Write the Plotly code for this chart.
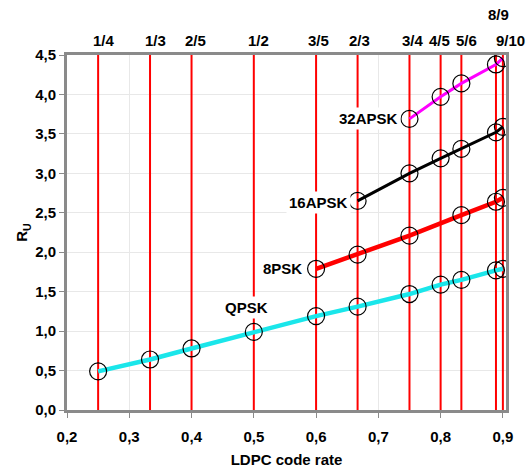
import plotly.graph_objects as go

# Code-rate labels and values (vertical red lines)
rate_labels = ["1/4", "1/3", "2/5", "1/2", "3/5", "2/3", "3/4", "4/5", "5/6", "8/9", "9/10"]
rate_values = [1/4, 1/3, 2/5, 1/2, 3/5, 2/3, 3/4, 4/5, 5/6, 8/9, 9/10]

# Spectral efficiency R_U per modulation
qpsk_x = [1/4, 1/3, 2/5, 1/2, 3/5, 2/3, 3/4, 4/5, 5/6, 8/9, 9/10]
qpsk_y = [0.49, 0.64, 0.78, 0.99, 1.19, 1.31, 1.47, 1.59, 1.65, 1.77, 1.79]
psk8_x = [3/5, 2/3, 3/4, 5/6, 8/9, 9/10]
psk8_y = [1.79, 1.97, 2.21, 2.47, 2.64, 2.69]
apsk16_x = [2/3, 3/4, 4/5, 5/6, 8/9, 9/10]
apsk16_y = [2.65, 3.00, 3.19, 3.31, 3.52, 3.59]
apsk32_x = [3/4, 4/5, 5/6, 8/9, 9/10]
apsk32_y = [3.69, 3.97, 4.14, 4.38, 4.46]

FONT = "Liberation Sans, Arial, Helvetica, sans-serif"
FS = 15

fig = go.Figure()

# Vertical red code-rate lines (as a trace so they sit above the grid, below the data)
vx, vy = [], []
for v in rate_values:
    vx += [v, v, None]
    vy += [0, 4.5, None]
fig.add_trace(go.Scatter(x=vx, y=vy, mode="lines", line=dict(color="#ff0000", width=2),
                         showlegend=False, hoverinfo="skip"))

series = [
    ("QPSK", qpsk_x, qpsk_y, "#1ae6ea", 4.5),
    ("8PSK", psk8_x, psk8_y, "#ff0000", 4.5),
    ("16APSK", apsk16_x, apsk16_y, "#000000", 3),
    ("32APSK", apsk32_x, apsk32_y, "#ff00ff", 3),
]
for name, xs, ys, col, w in series:
    fig.add_trace(go.Scatter(x=xs, y=ys, mode="lines", line=dict(color=col, width=w),
                             showlegend=False, hoverinfo="skip"))
for name, xs, ys, col, w in series:
    fig.add_trace(go.Scatter(x=xs, y=ys, mode="markers", name=name,
                             marker=dict(symbol="circle-open", size=17,
                                         color="black", line=dict(width=1.2, color="black")),
                             showlegend=False))

# Top labels (x shift, y shift in px)
top_shift = {"1/4": (6, 15), "1/3": (5, 15), "2/5": (4, 15), "1/2": (5, 15),
             "3/5": (2, 15), "2/3": (2, 15), "3/4": (4, 15), "4/5": (-1, 15),
             "5/6": (5, 15), "8/9": (3, 41), "9/10": (8, 15)}
for lab_, v in zip(rate_labels, rate_values):
    xs, ys = top_shift[lab_]
    fig.add_annotation(x=v, y=1, xref="x", yref="paper", text="<b>%s</b>" % lab_,
                       showarrow=False, yanchor="middle", xanchor="center",
                       xshift=xs, yshift=ys, font=dict(family=FONT, size=FS, color="black"))

# Series labels
def lab(text, x, y, xanchor, xshift, yshift):
    fig.add_annotation(x=x, y=y, xref="x", yref="y", text="<b>%s</b>" % text,
                       showarrow=False, xanchor=xanchor, yanchor="middle",
                       xshift=xshift, yshift=yshift, bgcolor="white", borderpad=2,
                       font=dict(family=FONT, size=FS, color="black"))

lab("QPSK", qpsk_x[3], qpsk_y[3], "center", -7, 24)
lab("8PSK", psk8_x[0], psk8_y[0], "right", -11, 0)
lab("16APSK", apsk16_x[0], apsk16_y[0], "right", -7, -2)
lab("32APSK", apsk32_x[0], apsk32_y[0], "right", -8, 0)

axis_common = dict(showgrid=True, gridcolor="#e8e8e8", gridwidth=1,
                   showline=True, linecolor="#8a8a8a", linewidth=3, mirror=True,
                   ticks="outside", ticklen=5, tickcolor="#8a8a8a",
                   tickfont=dict(family=FONT, size=FS, color="black", weight="bold"),
                   zeroline=False, tickformat=".1f", automargin=False)

fig.update_layout(
    width=528, height=468,
    margin=dict(l=67, r=22, t=55, b=58),
    paper_bgcolor="white", plot_bgcolor="white",
    separators=",.",
    font=dict(family=FONT, size=FS, color="black"),
    xaxis=dict(range=[0.2, 0.905], tickvals=[0.2, 0.3, 0.4, 0.5, 0.6, 0.7, 0.8, 0.9],
               ticklabelstandoff=6,
               title=dict(text="<b>LDPC code rate</b>", standoff=14,
                          font=dict(family=FONT, size=FS, color="black")),
               **axis_common),
    yaxis=dict(range=[0, 4.5], dtick=0.5,
               title=dict(text="<b>R<sub>U</sub></b>", standoff=4,
                          font=dict(family=FONT, size=FS, color="black")),
               **axis_common),
)

fig.write_html("out.html")
